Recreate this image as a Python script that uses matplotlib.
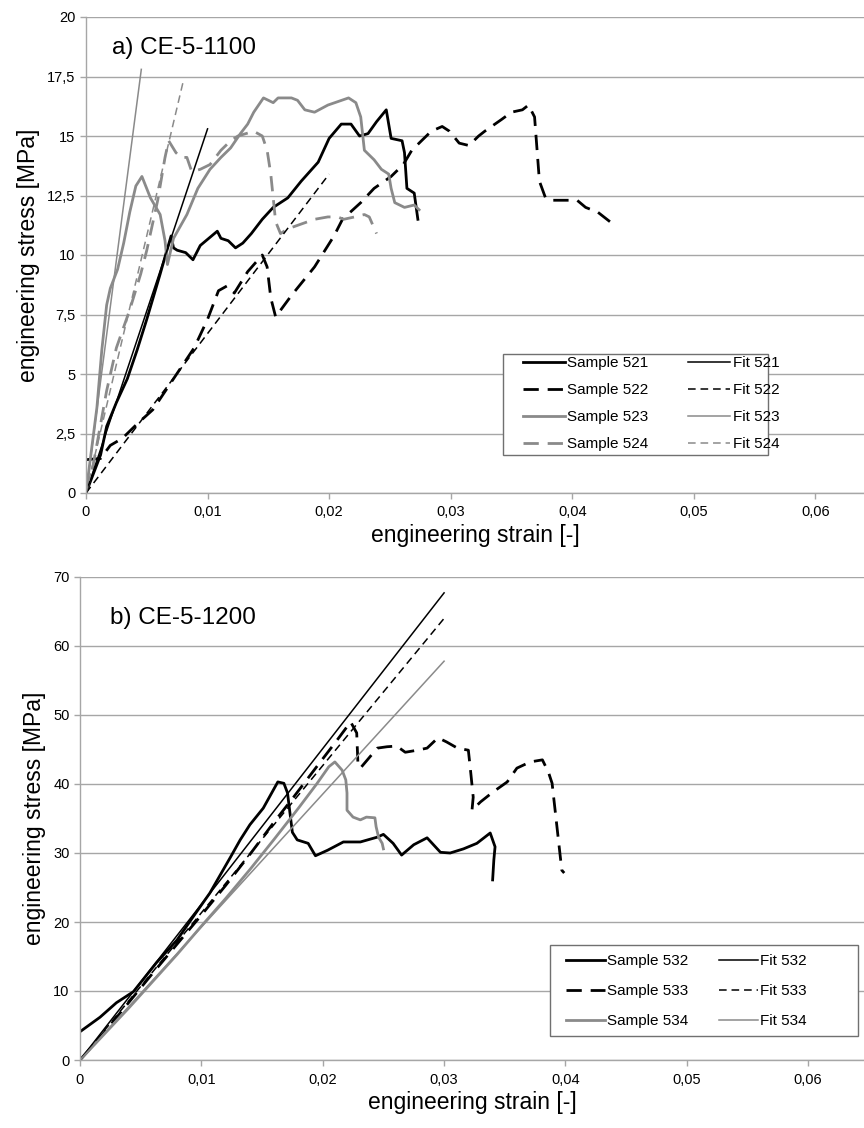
import matplotlib
matplotlib.use("Agg")
import matplotlib.pyplot as plt
from matplotlib.patches import Rectangle
from matplotlib.ticker import FuncFormatter, MultipleLocator

plt.rcParams['font.family'] = ['Liberation Sans', 'DejaVu Sans']

# ---- a) CE-5-1100 ----
s521_x = [0, 0.0006, 0.0012, 0.0017, 0.0025, 0.0034, 0.0042, 0.005, 0.0061, 0.0066, 0.007, 0.0072, 0.0075,
          0.0082, 0.0088, 0.0094, 0.0101, 0.0108, 0.0111, 0.0117, 0.0123, 0.0129, 0.0136, 0.0145, 0.0154,
          0.0166, 0.0177, 0.0191, 0.02, 0.021, 0.0218, 0.0225, 0.0232, 0.0239, 0.0247, 0.0251, 0.026,
          0.0262, 0.0264, 0.027, 0.0273]
s521_y = [0, 0.8, 1.6, 2.8, 3.8, 4.8, 6.0, 7.3, 9.2, 10.1, 10.8, 10.3, 10.2,
          10.1, 9.8, 10.4, 10.7, 11.0, 10.7, 10.6, 10.3, 10.5, 10.9, 11.5, 12.0,
          12.4, 13.1, 13.9, 14.9, 15.5, 15.5, 15.0, 15.1, 15.6, 16.1, 14.9, 14.8,
          14.3, 12.8, 12.6, 11.5]

s522_x = [0, 0.0012, 0.002, 0.003, 0.0042, 0.0055, 0.0072, 0.0089, 0.01, 0.0109, 0.0116, 0.0122, 0.0133,
          0.0145, 0.0149, 0.0152, 0.0156, 0.0169, 0.0188, 0.0204, 0.0211, 0.0226, 0.0237, 0.0251, 0.0261,
          0.0268, 0.0284, 0.0293, 0.0299, 0.0307, 0.0315, 0.0323, 0.0328, 0.0342, 0.035, 0.0359, 0.0364,
          0.0369, 0.0373, 0.0378, 0.0383, 0.0397, 0.0404, 0.0411, 0.0421, 0.0431]
s522_y = [1.4, 1.45, 2.0, 2.3, 2.9, 3.5, 4.8, 6.1, 7.3, 8.5, 8.7, 8.4, 9.3,
          10.0, 9.5, 8.2, 7.4, 8.3, 9.5, 10.8, 11.5, 12.2, 12.8, 13.3, 13.8,
          14.4, 15.2, 15.4, 15.2, 14.7, 14.6, 15.0, 15.2, 15.7, 16.0, 16.1, 16.3,
          15.8, 13.1, 12.4, 12.3, 12.3, 12.3, 12.0, 11.8, 11.4]

s523_x = [0, 0.0004, 0.0009, 0.0013, 0.0017, 0.002, 0.0026, 0.0031, 0.0036, 0.0041, 0.0046, 0.0053, 0.0061,
          0.0065, 0.0067, 0.0072, 0.0083, 0.0092, 0.0102, 0.0111, 0.0119, 0.0127, 0.0133, 0.0138, 0.0146,
          0.0154, 0.0158, 0.0169, 0.0174, 0.018, 0.0188, 0.0199, 0.0216, 0.0222, 0.0226, 0.0229, 0.0237,
          0.0243, 0.0249, 0.0251, 0.0254, 0.0262, 0.027, 0.0274]
s523_y = [0, 1.6, 3.6, 6.0, 7.9, 8.6, 9.4, 10.5, 11.8, 12.9, 13.3, 12.4, 11.7,
          10.6, 9.6, 10.7, 11.7, 12.8, 13.6, 14.1, 14.5, 15.1, 15.5, 16.0, 16.6,
          16.4, 16.6, 16.6, 16.5, 16.1, 16.0, 16.3, 16.6, 16.4, 15.8, 14.4, 14.0,
          13.6, 13.4, 12.8, 12.2, 12.0, 12.1, 11.9]

s524_x = [0, 0.0006, 0.0017, 0.0025, 0.0036, 0.0045, 0.005, 0.0059, 0.0065, 0.0068, 0.0074, 0.0078, 0.0083,
          0.0087, 0.0094, 0.0102, 0.0111, 0.0119, 0.0125, 0.0138, 0.0145, 0.0149, 0.0152, 0.0154, 0.0156,
          0.016, 0.0166, 0.0177, 0.0188, 0.0199, 0.0207, 0.0212, 0.0221, 0.0229, 0.0233, 0.0239]
s524_y = [0, 1.2, 4.3, 6.1, 7.7, 9.2, 10.2, 12.3, 14.1, 14.8, 14.3, 14.1, 14.1,
          13.5, 13.6, 13.8, 14.4, 14.8, 15.0, 15.2, 15.0, 14.4, 13.4, 12.4, 11.4,
          10.9, 11.1, 11.3, 11.5, 11.6, 11.6, 11.5, 11.6, 11.7, 11.6, 10.9]

# fits: (end strain, end stress), all start at the origin
fit_a_end_x = [0.01, 0.02, 0.00455, 0.008]
fit_a_end_y = [15.3, 13.4, 17.8, 17.3]
labels_a = ['521', '522', '523', '524']

# ---- b) CE-5-1200 ----
s532_x = [0, 0.00165, 0.003, 0.0044, 0.0063, 0.008, 0.0093, 0.0107, 0.0124, 0.0132, 0.014, 0.0151, 0.0163,
          0.0168, 0.0171, 0.0173, 0.0175, 0.0179, 0.0188, 0.0194, 0.0204, 0.0217, 0.0231, 0.0237, 0.0245,
          0.025, 0.0258, 0.0265, 0.0275, 0.0286, 0.0297, 0.0305, 0.0316, 0.0327, 0.0338, 0.0342, 0.0341,
          0.0340]
s532_y = [4.1, 6.2, 8.3, 9.9, 14.1, 17.4, 20.7, 24.2, 29.4, 31.9, 34.1, 36.5, 40.3,
          40.1, 38.7, 35.8, 33.0, 31.9, 31.4, 29.6, 30.4, 31.6, 31.6, 31.9, 32.3,
          32.7, 31.4, 29.7, 31.2, 32.2, 30.1, 30.0, 30.6, 31.4, 32.9, 30.9, 29.0,
          26.1]

s533_x = [0, 0.002, 0.004, 0.006, 0.008, 0.01, 0.012, 0.014, 0.016, 0.0176, 0.0195, 0.0212, 0.0223,
          0.0228, 0.0229, 0.0231, 0.0245, 0.0253, 0.0261, 0.0268, 0.0278, 0.0286, 0.0295, 0.0302, 0.0311,
          0.032, 0.0322, 0.0324, 0.0323, 0.033, 0.034, 0.0352, 0.036, 0.0371, 0.0381, 0.0386, 0.0389,
          0.0393, 0.0397, 0.0399]
s533_y = [0, 4.0, 8.3, 12.6, 16.8, 21.0, 25.3, 29.8, 34.5, 38.1, 42.5, 46.4, 49.0,
          47.4, 43.0, 42.3, 45.2, 45.4, 45.5, 44.6, 44.9, 45.2, 46.7, 46.1, 45.2,
          44.9, 41.6, 38.1, 36.2, 37.4, 38.8, 40.3, 42.3, 43.2, 43.5, 41.7, 40.1,
          33.8, 27.5, 27.1]

s534_x = [0, 0.004, 0.008, 0.01, 0.012, 0.014, 0.016, 0.018, 0.0195, 0.0205, 0.021, 0.0216, 0.0219,
          0.022, 0.022, 0.0225, 0.0231, 0.0236, 0.0243, 0.0244, 0.0246, 0.0249, 0.025]
s534_y = [0, 7.5, 15.3, 19.4, 23.4, 27.6, 32.0, 36.5, 40.0, 42.5, 43.2, 42.0, 40.6,
          38.7, 36.2, 35.2, 34.8, 35.2, 35.1, 33.8, 32.3, 31.4, 30.6]

fit_b_end_x = [0.03, 0.03, 0.03]
fit_b_end_y = [67.7, 64.0, 57.8]
labels_b = ['532', '533', '534']

GRAY = '#8a8a8a'
AXC = '#a6a6a6'
sample_dash = (0, (5.5, 3.2))
fit_dash = (0, (5.0, 3.2))


def comma_fmt(v, pos):
    if abs(v) < 1e-12:
        return '0'
    s = ('%.3f' % v).rstrip('0').rstrip('.')
    return s.replace('.', ',')


def style_axes(ax, xmax, ymax, ystep):
    ax.set_xlim(0, xmax)
    ax.set_ylim(0, ymax)
    ax.xaxis.set_major_locator(MultipleLocator(0.01))
    ax.yaxis.set_major_locator(MultipleLocator(ystep))
    ax.xaxis.set_major_formatter(FuncFormatter(comma_fmt))
    ax.yaxis.set_major_formatter(FuncFormatter(comma_fmt))
    ax.grid(axis='y', color=AXC, linewidth=1.0)
    ax.set_axisbelow(True)
    for sp in ['top', 'right']:
        ax.spines[sp].set_visible(False)
    for sp in ['left', 'bottom']:
        ax.spines[sp].set_color(AXC)
        ax.spines[sp].set_linewidth(1.0)
    ax.tick_params(axis='both', colors=AXC, labelcolor='black', labelsize=10.5, length=4, width=1.0,
                   direction='out')
    ax.tick_params(axis='x', pad=5)
    ax.set_xlabel('engineering strain [-]', fontsize=16.5, labelpad=3)
    ax.set_ylabel('engineering stress [MPa]', fontsize=16.5, labelpad=5)


def legend_box(ax, handles, box, anchor, rowgap, hlen, colgap):
    # white framed box like the spreadsheet legend, entries placed inside it
    x0, y0, x1, y1 = box
    ax.add_patch(Rectangle((x0, y0), x1 - x0, y1 - y0, transform=ax.transAxes, facecolor='white',
                           edgecolor='#707070', linewidth=1.0, zorder=4))
    leg = ax.legend(handles, [h.get_label() for h in handles], ncol=2, loc='upper left',
                    bbox_to_anchor=anchor, fontsize=11, frameon=False, handlelength=hlen,
                    handletextpad=0.15, columnspacing=colgap, labelspacing=rowgap, borderpad=0,
                    borderaxespad=0)
    leg.set_zorder(5)
    return leg


fig = plt.figure(figsize=(8.64, 11.28), dpi=100)

# top panel
ax1 = fig.add_axes([86 / 864, 1 - 493 / 1128, 778 / 864, 476 / 1128])
style_axes(ax1, 0.0640, 20, 2.5)
samples_a = [(s521_x, s521_y), (s522_x, s522_y), (s523_x, s523_y), (s524_x, s524_y)]
colors_a = ['black', 'black', GRAY, GRAY]
ls_s_a = ['-', sample_dash, '-', sample_dash]
ls_f_a = ['-', fit_dash, '-', fit_dash]
h_s, h_f = [], []
for i, (xs, ys) in enumerate(samples_a):
    l, = ax1.plot(xs, ys, color=colors_a[i], lw=2.0, ls=ls_s_a[i], label='Sample ' + labels_a[i])
    h_s.append(l)
for i in range(4):
    l, = ax1.plot([0, fit_a_end_x[i]], [0, fit_a_end_y[i]], color=colors_a[i], lw=1.1, ls=ls_f_a[i],
                  label='Fit ' + labels_a[i])
    h_f.append(l)
ax1.text(0.034, 0.935, 'a) CE-5-1100', transform=ax1.transAxes, fontsize=17.5, va='center', ha='left')
legend_box(ax1, h_s + h_f, (0.536, 0.0798, 0.8766, 0.292), (0.5617, 0.2878), 0.85, 2.75, 2.6)

# bottom panel
ax2 = fig.add_axes([80 / 864, 1 - 1060 / 1128, 784 / 864, 483 / 1128])
style_axes(ax2, 0.0646, 70, 10)
samples_b = [(s532_x, s532_y), (s533_x, s533_y), (s534_x, s534_y)]
colors_b = ['black', 'black', GRAY]
ls_s_b = ['-', sample_dash, '-']
ls_f_b = ['-', fit_dash, '-']
h_s, h_f = [], []
for i, (xs, ys) in enumerate(samples_b):
    l, = ax2.plot(xs, ys, color=colors_b[i], lw=2.0, ls=ls_s_b[i], label='Sample ' + labels_b[i])
    h_s.append(l)
for i in range(3):
    l, = ax2.plot([0, fit_b_end_x[i]], [0, fit_b_end_y[i]], color=colors_b[i], lw=1.1, ls=ls_f_b[i],
                  label='Fit ' + labels_b[i])
    h_f.append(l)
ax2.text(0.038, 0.915, 'b) CE-5-1200', transform=ax2.transAxes, fontsize=17.5, va='center', ha='left')
legend_box(ax2, h_s + h_f, (0.5995, 0.0497, 0.9923, 0.238), (0.620, 0.2195), 1.05, 2.55, 2.0)

fig.savefig('out.png', dpi=100)
